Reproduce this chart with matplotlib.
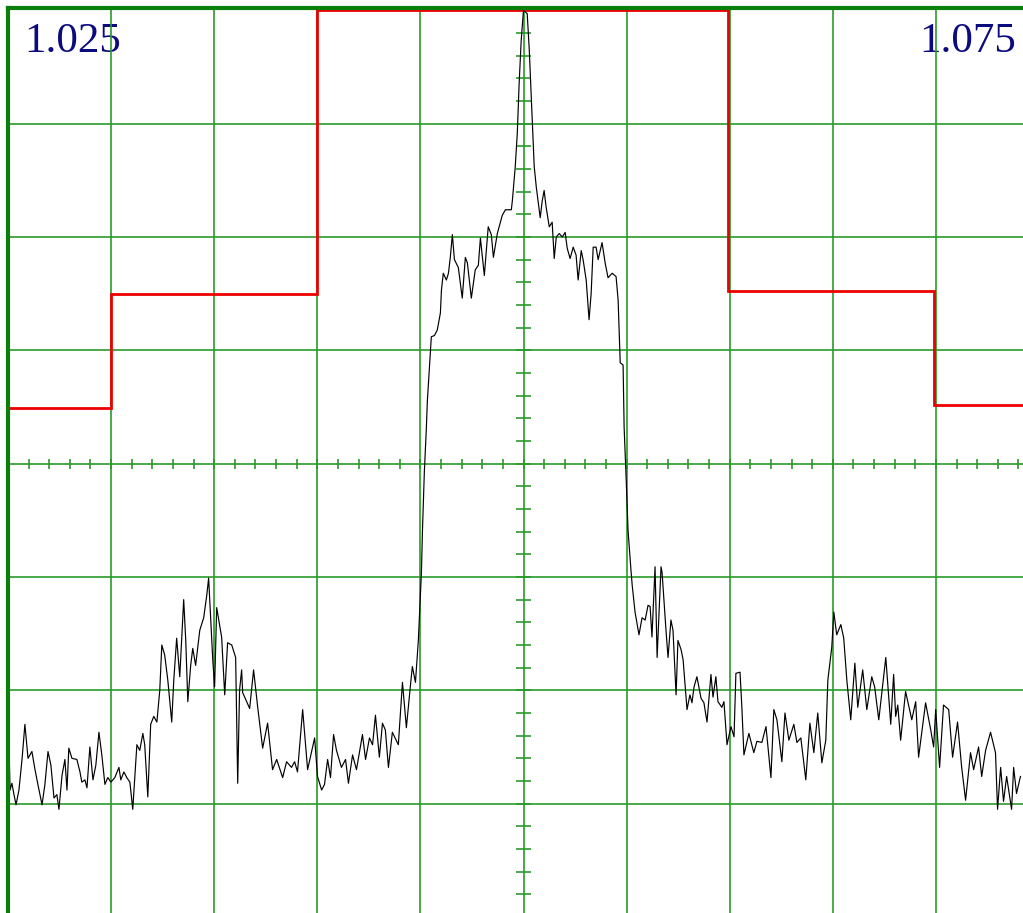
import numpy as np
import matplotlib
matplotlib.use("Agg")
import matplotlib.pyplot as plt
from matplotlib.collections import LineCollection

# Measured spectrum trace: frequency (MHz) and level (dB)
freq_mhz = [
    1025.00, 1025.10, 1025.19, 1025.29, 1025.39, 1025.53, 1025.68, 1025.82, 1025.97, 1026.16,
    1026.31, 1026.45, 1026.65, 1026.79, 1026.94, 1027.08, 1027.23, 1027.37, 1027.47, 1027.62,
    1027.76, 1027.86, 1027.95, 1028.10, 1028.34, 1028.49, 1028.58, 1028.73, 1028.83, 1028.97,
    1029.12, 1029.26, 1029.41, 1029.55, 1029.70, 1029.84, 1029.99, 1030.18, 1030.38, 1030.47,
    1030.62, 1030.76, 1030.91, 1031.05, 1031.25, 1031.39, 1031.54, 1031.63, 1031.78, 1031.92,
    1032.07, 1032.22, 1032.36, 1032.46, 1032.60, 1032.75, 1032.94, 1033.04, 1033.18, 1033.33,
    1033.52, 1033.62, 1033.72, 1033.86, 1033.96, 1034.10, 1034.30, 1034.49, 1034.64, 1034.73,
    1034.93, 1035.02, 1035.12, 1035.36, 1035.51, 1035.65, 1035.85, 1036.04, 1036.14, 1036.23,
    1036.33, 1036.38, 1036.72, 1036.91, 1037.11, 1037.35, 1037.59, 1037.83, 1038.03, 1038.32,
    1038.51, 1038.75, 1038.90, 1039.04, 1039.29, 1039.53, 1039.87, 1040.01, 1040.21, 1040.35,
    1040.50, 1040.64, 1040.79, 1040.93, 1041.17, 1041.37, 1041.51, 1041.71, 1041.90, 1042.19,
    1042.34, 1042.53, 1042.68, 1042.82, 1043.01, 1043.16, 1043.30, 1043.45, 1043.64, 1043.93,
    1044.13, 1044.32, 1044.52, 1044.61, 1044.76, 1044.90, 1045.05, 1045.10, 1045.19, 1045.29,
    1045.34, 1045.44, 1045.53, 1045.68, 1045.82, 1045.97, 1046.02, 1046.11, 1046.26, 1046.36,
    1046.45, 1046.55, 1046.65, 1046.84, 1047.03, 1047.18, 1047.28, 1047.47, 1047.66, 1047.81,
    1047.91, 1048.10, 1048.29, 1048.44, 1048.54, 1048.73, 1048.97, 1049.12, 1049.41, 1049.46,
    1049.60, 1049.70, 1049.79, 1049.89, 1050.00, 1050.18, 1050.28, 1050.42, 1050.52, 1050.62,
    1050.81, 1050.91, 1051.00, 1051.10, 1051.25, 1051.39, 1051.49, 1051.59, 1051.73, 1051.88,
    1052.02, 1052.12, 1052.26, 1052.41, 1052.55, 1052.65, 1052.80, 1052.89, 1053.04, 1053.18,
    1053.28, 1053.38, 1053.52, 1053.62, 1053.72, 1053.81, 1053.96, 1054.10, 1054.30, 1054.49,
    1054.59, 1054.69, 1054.83, 1054.88, 1054.98, 1055.07, 1055.22, 1055.27, 1055.41, 1055.60,
    1055.75, 1055.90, 1056.04, 1056.14, 1056.23, 1056.38, 1056.48, 1056.67, 1056.72, 1056.91,
    1057.01, 1057.15, 1057.25, 1057.40, 1057.49, 1057.64, 1057.74, 1057.93, 1058.07, 1058.17,
    1058.27, 1058.41, 1058.61, 1058.75, 1058.90, 1059.09, 1059.19, 1059.33, 1059.43, 1059.62,
    1059.72, 1059.87, 1060.06, 1060.21, 1060.30, 1060.50, 1060.59, 1060.69, 1060.93, 1061.17,
    1061.32, 1061.56, 1061.76, 1062.00, 1062.14, 1062.29, 1062.53, 1062.68, 1062.87, 1063.11,
    1063.26, 1063.45, 1063.69, 1063.89, 1064.08, 1064.27, 1064.47, 1064.66, 1064.76, 1064.95,
    1065.05, 1065.19, 1065.39, 1065.53, 1065.68, 1065.87, 1066.07, 1066.21, 1066.45, 1066.65,
    1066.89, 1067.03, 1067.23, 1067.57, 1067.81, 1067.95, 1068.05, 1068.15, 1068.29, 1068.53,
    1068.83, 1069.02, 1069.16, 1069.50, 1069.75, 1069.89, 1069.99, 1070.18, 1070.37, 1070.62,
    1070.81, 1071.05, 1071.25, 1071.44, 1071.68, 1071.83, 1072.07, 1072.22, 1072.41, 1072.65,
    1072.89, 1072.99, 1073.14, 1073.28, 1073.43, 1073.67, 1073.77, 1073.91, 1074.10,
]
level_db = [
    -61.5, -68.8, -68.2, -69.2, -70.1, -68.8, -66.1, -63.0, -66.0, -65.4,
    -67.0, -68.3, -70.1, -68.3, -65.4, -66.6, -69.5, -69.2, -70.5, -67.5,
    -66.1, -68.8, -65.1, -66.0, -66.1, -67.2, -68.1, -67.9, -68.6, -65.0,
    -67.9, -66.6, -63.7, -65.7, -68.3, -67.7, -68.1, -67.7, -66.8, -67.9,
    -67.2, -67.7, -68.1, -70.5, -64.8, -65.3, -63.8, -64.8, -69.4, -63.0,
    -62.3, -62.8, -60.0, -56.0, -56.9, -59.1, -62.8, -59.1, -55.4, -58.8,
    -52.0, -55.6, -61.0, -57.8, -56.3, -57.8, -54.7, -53.6, -51.6, -50.1,
    -57.3, -59.7, -52.7, -55.3, -60.4, -55.8, -56.0, -57.1, -68.2, -60.0,
    -58.2, -60.2, -61.6, -58.2, -61.5, -65.1, -62.9, -67.0, -66.1, -67.7,
    -66.3, -66.8, -66.3, -67.2, -61.7, -67.0, -64.2, -67.6, -68.8, -68.3,
    -66.1, -67.7, -63.9, -65.3, -66.8, -66.1, -68.2, -65.7, -67.0, -63.9,
    -66.1, -64.2, -64.8, -62.2, -65.9, -62.9, -63.5, -66.8, -63.7, -64.8,
    -59.3, -63.3, -59.5, -57.9, -59.3, -55.6, -49.6, -45.9, -40.8, -36.8,
    -34.4, -31.5, -28.8, -28.7, -28.2, -26.7, -24.7, -23.2, -23.8, -23.2,
    -21.8, -19.8, -22.0, -22.7, -25.4, -21.8, -22.3, -25.4, -22.9, -22.5,
    -20.1, -23.4, -19.1, -19.8, -21.8, -19.7, -18.1, -17.6, -17.6, -16.8,
    -13.8, -10.8, -6.4, -2.6, 0.0, -0.3, -3.5, -9.4, -13.8, -15.6,
    -18.3, -16.8, -15.9, -17.4, -19.1, -18.7, -21.9, -20.0, -19.7, -20.0,
    -19.6, -21.0, -21.9, -20.9, -21.6, -23.8, -21.2, -22.0, -23.8, -27.3,
    -25.0, -20.9, -20.9, -22.0, -21.2, -20.5, -22.3, -23.6, -23.2, -23.5,
    -25.6, -31.1, -31.3, -36.8, -41.4, -45.9, -49.6, -50.7, -53.1, -55.1,
    -53.6, -53.8, -52.5, -52.6, -55.3, -49.1, -57.1, -49.1, -49.6, -54.7,
    -57.1, -53.8, -54.7, -60.4, -55.6, -56.4, -57.3, -61.7, -60.4, -61.1,
    -59.7, -58.8, -60.7, -61.1, -62.8, -58.6, -60.6, -58.8, -61.0, -61.5,
    -61.0, -64.8, -63.2, -64.1, -58.5, -58.4, -61.5, -65.7, -63.8, -65.5,
    -64.5, -64.6, -63.2, -67.7, -61.7, -62.6, -66.3, -62.0, -64.4, -63.0,
    -64.6, -64.2, -67.9, -62.9, -65.5, -62.0, -66.4, -64.4, -59.1, -56.2,
    -53.1, -55.1, -54.2, -55.4, -59.1, -62.6, -57.6, -61.5, -58.2, -61.7,
    -58.8, -59.7, -62.6, -57.1, -63.0, -58.6, -62.3, -61.3, -64.4, -60.1,
    -62.6, -61.0, -65.9, -61.1, -63.5, -65.0, -61.7, -66.8, -61.3, -61.7,
    -65.9, -62.8, -66.8, -69.7, -65.5, -67.0, -65.0, -67.6, -65.3, -63.7,
    -65.5, -70.5, -66.8, -69.8, -67.6, -70.5, -66.8, -69.1, -67.6,
]

# Spectrum emission mask: segment edges (MHz) and limit per segment (dB)
mask_edges = [1025.0, 1030.0, 1040.0, 1059.9, 1069.9, 1075.0]
mask_levels = [-35.1, -25.0, 0.0, -24.8, -34.8]

# Screen labels
start_label = "1.025"
stop_label = "1.075"

f_start, f_stop = 1025.0, 1075.0
db_bottom, db_top = -80.0, 0.2
grid_green = "#2a9a2a"
border_green = "#0a800a"

fig = plt.figure(figsize=(10.23, 9.13), dpi=100)
fig.patch.set_facecolor("white")
# graticule extends a little past the right and bottom edges of the figure
ax = fig.add_axes([8 / 1023, -4 / 913, 1031 / 1023, 909 / 913])
ax.set_xlim(f_start, f_stop)
ax.set_ylim(db_bottom, db_top)
ax.set_xticks([])
ax.set_yticks([])
for side in ("right", "bottom"):
    ax.spines[side].set_visible(False)
for side in ("left", "top"):
    ax.spines[side].set_color(border_green)
    ax.spines[side].set_linewidth(3.0)
    ax.spines[side].set_zorder(6)

# graticule: 10 x 8 divisions
for f in np.arange(f_start + 5, f_stop, 5):
    ax.axvline(f, color=grid_green, lw=1.2, zorder=2)
for d in np.arange(-70, 0, 10):
    ax.axhline(d, color=grid_green, lw=1.2, zorder=2)

# minor ticks along the centre lines
f_mid = (f_start + f_stop) / 2
db_mid = -40.0
segs = []
for d in np.arange(db_bottom, 0.01, 2.0):
    segs.append([(f_mid - 0.34, d), (f_mid + 0.34, d)])
for f in np.arange(f_start, f_stop + 0.01, 1.0):
    segs.append([(f, db_mid - 0.45), (f, db_mid + 0.45)])
ax.add_collection(LineCollection(segs, colors=grid_green, linewidths=1.2, zorder=2))

# labels (under the graticule)
ax.text(0.0155, 0.984, start_label, transform=ax.transAxes, ha="left", va="top",
        fontsize=31, family="Liberation Serif", color="#0b0b80", zorder=1)
ax.text(0.9775, 0.984, stop_label, transform=ax.transAxes, ha="right", va="top",
        fontsize=31, family="Liberation Serif", color="#0b0b80", zorder=1)

# mask and trace
ax.stairs(mask_levels, mask_edges, baseline=None, color="#ee0000", lw=2.0, zorder=4)
ax.plot(freq_mhz, level_db, color="black", lw=0.85, zorder=5)

fig.savefig("out.png", dpi=100, facecolor="white")
